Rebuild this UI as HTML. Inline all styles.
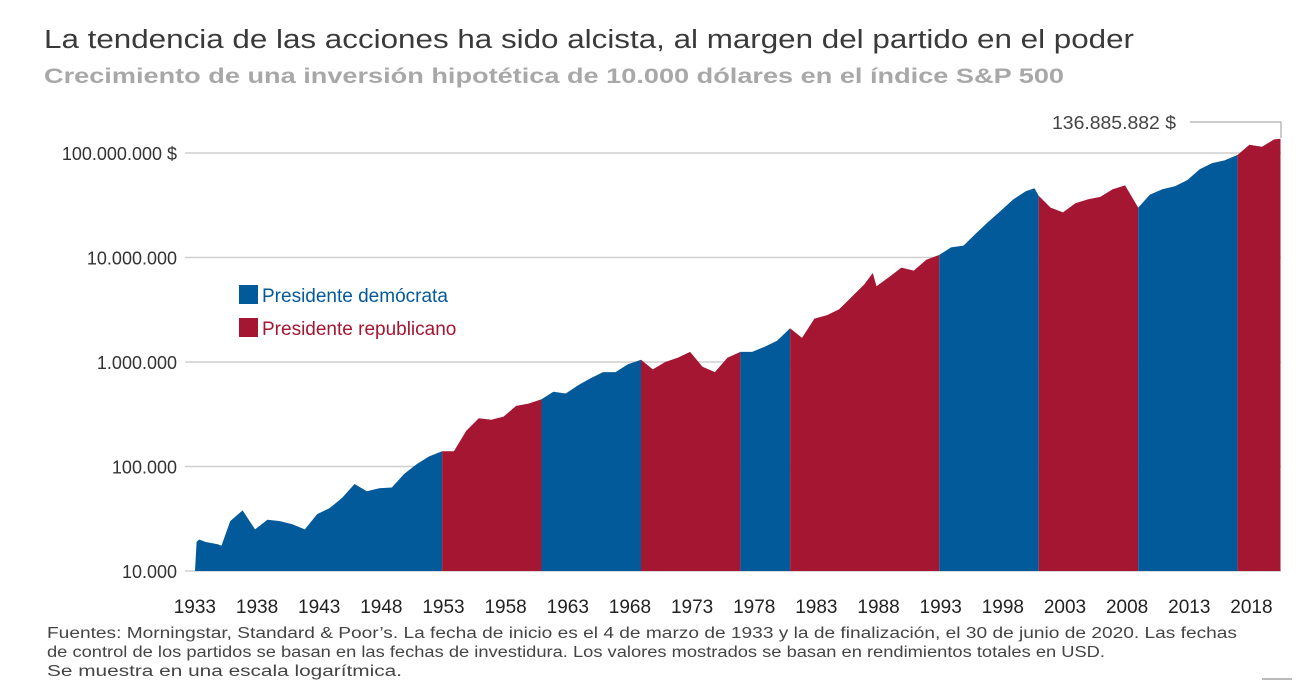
<!DOCTYPE html>
<html><head><meta charset="utf-8">
<style>
html,body{margin:0;padding:0;background:#fff;}
body{width:1297px;height:684px;overflow:hidden;font-family:"Liberation Sans",sans-serif;}
</style></head>
<body>
<svg id="chart" width="1297" height="684" viewBox="0 0 1297 684" xmlns="http://www.w3.org/2000/svg" font-family="Liberation Sans, sans-serif">
<text x="44" y="48" font-size="25.5" fill="#3a3a3a" textLength="1090" lengthAdjust="spacingAndGlyphs">La tendencia de las acciones ha sido alcista, al margen del partido en el poder</text>
<text x="44" y="83" font-size="21" font-weight="bold" fill="#a8a8a8" textLength="1020" lengthAdjust="spacingAndGlyphs">Crecimiento de una inversión hipotética de 10.000 dólares en el índice S&amp;P 500</text>
<g id="grid"></g>
<g id="yticks"></g>
<g id="areas"></g>
<g id="xticks"></g>
<g>
<rect x="239" y="285" width="19" height="19" fill="#035a9b"/>
<text x="262" y="302" font-size="19" fill="#035a9b">Presidente demócrata</text>
<rect x="239" y="318" width="19" height="19" fill="#a51632"/>
<text x="262" y="335" font-size="19" fill="#a51632">Presidente republicano</text>
</g>
<g>
<text x="1052" y="129" font-size="18" fill="#444" textLength="124" lengthAdjust="spacingAndGlyphs">136.885.882 $</text>
<polyline points="1190,122 1281,122 1281,138" fill="none" stroke="#999" stroke-width="1"/>
</g>
<g font-size="15.5" fill="#444">
<text x="47" y="638" textLength="1190" lengthAdjust="spacingAndGlyphs">Fuentes: Morningstar, Standard &amp; Poor’s. La fecha de inicio es el 4 de marzo de 1933 y la de finalización, el 30 de junio de 2020. Las fechas</text>
<text x="47" y="657" textLength="1058" lengthAdjust="spacingAndGlyphs">de control de los partidos se basan en las fechas de investidura. Los valores mostrados se basan en rendimientos totales en USD.</text>
<text x="47" y="676" textLength="355" lengthAdjust="spacingAndGlyphs">Se muestra en una escala logarítmica.</text>
</g>
<line x1="1262" y1="679" x2="1292" y2="679" stroke="#777" stroke-width="1"/>
</svg>
<script>
const years = [1933.17,1933.3,1933.5,1934,1935,1935.3,1936,1937,1938,1939,1940,1941,1942,1943,1944,1945,1946,1947,1948,1949,1950,1951,1952,1953.05,1954,1955,1956,1957,1958,1959,1960,1961.05,1962,1963,1964,1965,1966,1967,1968,1969.05,1970,1971,1972,1973,1974,1975,1976,1977.05,1978,1979,1980,1981.05,1982,1983,1984,1985,1986,1987,1987.7,1988,1989,1990,1991,1992,1993.05,1994,1995,1996,1997,1998,1999,2000,2000.7,2001.05,2002,2003,2004,2005,2006,2007,2008,2009.05,2010,2011,2012,2013,2014,2015,2016,2017.05,2018,2019,2020,2020.5];
const values = [10000,19000,20000,19000,18000,17500,30000,38000,25000,31000,30000,28000,25000,35000,40000,50000,68000,58000,62000,63000,85000,105000,125000,140000,140000,220000,290000,280000,300000,380000,400000,440000,520000,500000,600000,700000,800000,800000,950000,1050000,850000,1000000,1100000,1250000,900000,800000,1100000,1250000,1250000,1400000,1600000,2100000,1700000,2600000,2800000,3200000,4200000,5500000,7100000,5300000,6500000,8000000,7500000,9500000,10600000,12500000,13000000,17000000,22000000,28000000,36000000,43000000,46000000,39000000,30000000,27000000,33000000,36000000,38000000,45000000,49000000,30000000,40000000,45000000,48000000,55000000,70000000,80000000,85000000,96000000,120000000,115000000,135000000,136885882];
const termStarts = [1933.17,1953.05,1961.05,1969.05,1977.05,1981.05,1993.05,2001.05,2009.05,2017.05];
const termEnds   = [1953.05,1961.05,1969.05,1977.05,1981.05,1993.05,2001.05,2009.05,2017.05,2020.5];
const termParty  = ["D","R","D","R","D","R","D","R","D","R"];
const yTickValues = [10000,100000,1000000,10000000,100000000];
const yTickLabels = ["10.000","100.000","1.000.000","10.000.000","100.000.000 $"];
const xTickYears = [1933,1938,1943,1948,1953,1958,1963,1968,1973,1978,1983,1988,1993,1998,2003,2008,2013,2018];

const NS="http://www.w3.org/2000/svg";
const x = yr => 195 + (yr-1933.17)*12.43;
const y = v => 571 - (Math.log10(v)-4)*104.5;
function mk(tag, attrs, parent){const e=document.createElementNS(NS,tag);for(const k in attrs)e.setAttribute(k,attrs[k]);parent.appendChild(e);return e;}
function valAt(yr){for(let i=0;i<years.length-1;i++){if(yr>=years[i]&&yr<=years[i+1]){const t=(yr-years[i])/(years[i+1]-years[i]);return Math.pow(10,Math.log10(values[i])*(1-t)+Math.log10(values[i+1])*t);}}return values[values.length-1];}

const grid=document.getElementById('grid'), yt=document.getElementById('yticks');
yTickValues.forEach((v,i)=>{
  const l=mk('line',{x1:185,x2:1281,y1:y(v),y2:y(v),stroke:'#cfcfcf','stroke-width':1.5},grid);
  
  
  const t=mk('text',{x:177,y:y(v)+7,'text-anchor':'end','font-size':18,fill:'#333'},yt);
  t.textContent=yTickLabels[i];
  
  
});
const areas=document.getElementById('areas');
termStarts.forEach((s,i)=>{
  const e=termEnds[i];
  const pts=[[x(s),y(10000)],[x(s),y(valAt(s))]];
  years.forEach((yr,j)=>{if(yr>s&&yr<e)pts.push([x(yr),y(values[j])]);});
  pts.push([x(e),y(valAt(e))],[x(e),y(10000)]);
  const p=mk('polygon',{points:pts.map(q=>q[0].toFixed(1)+','+q[1].toFixed(1)).join(' '),fill:termParty[i]==='D'?'#035a9b':'#a51632'},areas);
  
  
});
const xt=document.getElementById('xticks');
xTickYears.forEach(yr=>{
  const t=mk('text',{x:x(yr)+2,y:613,'text-anchor':'middle','font-size':19,fill:'#222'},xt);
  t.textContent=yr;
  
  
});
</script>
</body></html>
